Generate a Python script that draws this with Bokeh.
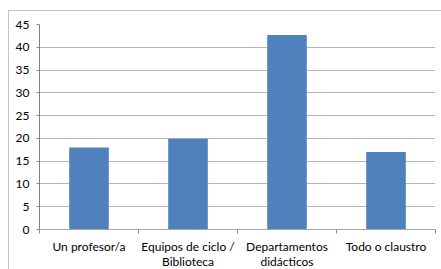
from bokeh.plotting import figure
from bokeh.models import FixedTicker, ColumnDataSource, Range1d, InlineStyleSheet
from bokeh.embed import file_html
from bokeh.resources import INLINE

categories = ["Un profesor/a", "Equipos de ciclo /\nBiblioteca", "Departamentos\ndidácticos", "Todo o claustro"]
values = [18.0, 19.9, 42.7, 17.0]
y_ticks = [0, 5, 10, 15, 20, 25, 30, 35, 40, 45]

xs = [i + 0.5 for i in range(len(categories))]
src = ColumnDataSource(dict(x=xs, top=values))

p = figure(frame_width=396, frame_height=205, output_backend="svg", toolbar_location=None,
           x_range=Range1d(0, len(categories)), y_range=Range1d(0, 45),
           min_border_left=39, min_border_right=6, min_border_top=24, min_border_bottom=40)
p.stylesheets = [InlineStyleSheet(css=":host::after { content: ''; position: absolute; left: 8px; top: 10px; right: -20px; bottom: -20px; border-left: 1px solid #c4c4c4; border-top: 1px solid #c4c4c4; pointer-events: none; z-index: 10; }")]
p.outline_line_color = None
p.background_fill_color = "white"
p.border_fill_color = "white"

p.vbar(x="x", top="top", width=0.4, bottom=0, source=src, fill_color="#4F81BD", line_color=None)

font = "Lato"
p.xaxis.ticker = FixedTicker(ticks=xs, minor_ticks=list(range(len(categories) + 1)))
p.xaxis.major_label_overrides = {x: c for x, c in zip(xs, categories)}
p.xaxis.major_tick_line_color = None
p.xaxis.major_tick_in = 0
p.xaxis.major_tick_out = 0
p.xaxis.minor_tick_in = 0
p.xaxis.minor_tick_out = 4
p.xaxis.minor_tick_line_color = "#8c8c8c"
p.xaxis.axis_line_color = "#a6a6a6"
p.xaxis.major_label_text_font = font
p.xaxis.major_label_text_font_size = "12px"
p.xaxis.major_label_text_line_height = 1.0
p.xaxis.major_label_text_color = "#000000"
p.xaxis.major_label_standoff = 5

p.yaxis.ticker = FixedTicker(ticks=y_ticks)
p.yaxis.minor_tick_line_color = None
p.yaxis.major_tick_in = 0
p.yaxis.major_tick_out = 3
p.yaxis.major_tick_line_color = "#8c8c8c"
p.yaxis.axis_line_color = "#808080"
p.yaxis.major_label_text_font = font
p.yaxis.major_label_text_font_size = "12px"
p.yaxis.major_label_text_color = "#000000"
p.yaxis.major_label_standoff = 7

p.xgrid.grid_line_color = None
p.ygrid.ticker = FixedTicker(ticks=y_ticks)
p.ygrid.grid_line_color = "#b5b5b5"

open("out.html", "w").write(file_html(p, INLINE))
